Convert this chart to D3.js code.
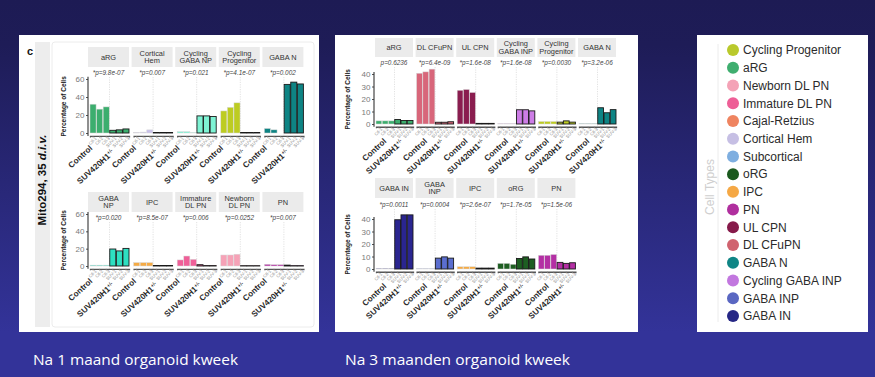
<!DOCTYPE html>
<html><head><meta charset="utf-8">
<script src="https://cdn.jsdelivr.net/npm/d3@7"></script>
<style>body{margin:0;background:#1e1c56}svg{display:block}</style>
</head><body><svg id="c" width="875" height="377"></svg>
<script>
// ---------------- data ----------------
const sampleLabels = ["Ctl-1","Ctl-2","Ctl-3","SUV-1","SUV-2","SUV-3"];
const groupLabels = ["Control","SUV420H1"];
const groupSup = "+/-";

// 1 month (Mito294, 35 d.i.v.)
const m1TopCats = ["aRG","Cortical Hem","Cycling GABA NP","Cycling Progenitor","GABA N"];
const m1TopStrips = [["aRG"],["Cortical","Hem"],["Cycling","GABA NP"],["Cycling","Progenitor"],["GABA N"]];
const m1TopControl = [[32,26.5,29],[0.8,1,3.5],[1.5,1.5,0.6],[24.5,28.5,33.5],[5,3.5,0]];
const m1TopSUV = [[3,3.5,4.5],[0.6,0.6,0.6],[19,19,18.3],[0.6,0.6,0.6],[54,56.5,54.5]];
const m1TopP = ["*p=9.8e-07","*p=0.007","*p=0.021","*p=4.1e-07","*p=0.002"];

const m1BotCats = ["GABA NP","IPC","Immature DL PN","Newborn DL PN","PN"];
const m1BotStrips = [["GABA","NP"],["IPC"],["Immature","DL PN"],["Newborn","DL PN"],["PN"]];
const m1BotControl = [[1,1,1],[3.9,3.9,3.9],[7,11.5,7.7],[12.7,12.7,13.6],[2,1.5,1.5]];
const m1BotSUV = [[19.6,17.4,20.3],[0.6,0.6,0.6],[1.5,0.5,0.5],[0.4,0.4,0.4],[1,0.4,0.4]];
const m1BotP = ["*p=0.020","*p=8.5e-07","*p=0.006","*p=0.0252","*p=0.007"];
const m1Ticks = [0,20,40,60];

// 3 months
const m3TopCats = ["aRG","DL CFuPN","UL CPN","Cycling GABA INP","Cycling Progenitor","GABA N"];
const m3TopStrips = [["aRG"],["DL CFuPN"],["UL CPN"],["Cycling","GABA INP"],["Cycling","Progenitor"],["GABA N"]];
const m3TopControl = [[2.5,2.5,2.5],[40.6,41.7,43.9],[27,27.6,25.2],[0.3,0.3,0.3],[2,2,2],[0.3,0.3,0.3]];
const m3TopSUV = [[3.6,2.8,2.8],[1.4,1.4,1.8],[0.5,0.5,0.5],[11.4,11.4,10.5],[1.5,2.5,1.5],[13,9,11.5]];
const m3TopP = ["p=0.6236","*p=6.4e-09","*p=1.6e-08","*p=1.6e-08","*p=0.0030","*p=3.2e-06"];

const m3BotCats = ["GABA IN","GABA INP","IPC","oRG","PN"];
const m3BotStrips = [["GABA IN"],["GABA","INP"],["IPC"],["oRG"],["PN"]];
const m3BotControl = [[0.5,0.5,0.5],[0.3,0.3,0.3],[1.8,1.8,1.8],[4.5,4.5,3.8],[11,11,11.6]];
const m3BotSUV = [[39.4,43.3,43.3],[8.7,9.7,8.7],[0.7,0.7,0.7],[8.4,9.7,8],[5.3,4.5,5]];
const m3BotP = ["*p=0.0011","*p=0.0004","*p=2.6e-07","*p=1.7e-05","*p=1.5e-06"];
const m3Ticks = [0,10,20,30,40];

const barColors = {
  "aRG":"#3cae6e","Cortical Hem":"#c9c1e9","Cycling GABA NP":"#7ef3d4","Cycling Progenitor":"#bdcc22",
  "GABA N":"#0e8484","GABA NP":"#2edfc1","IPC":"#f5ab45","Immature DL PN":"#ef5f98","Newborn DL PN":"#f6a2b7",
  "PN":"#b42fa4","DL CFuPN":"#d8667a","UL CPN":"#8a1d4f","Cycling GABA INP":"#cd7de6","GABA IN":"#2a2590",
  "GABA INP":"#5b6ecf","oRG":"#1e5e22"
};

const cellTypes = ["Cycling Progenitor","aRG","Newborn DL PN","Immature DL PN","Cajal-Retzius","Cortical Hem",
  "Subcortical","oRG","IPC","PN","UL CPN","DL CFuPN","GABA N","Cycling GABA INP","GABA INP","GABA IN"];
const cellColors = ["#b9c92c","#3fae6f","#f4a2b6","#ee5f97","#ef8460","#c6bfe4","#7eaee0","#1b5a1e",
  "#f5a845","#b02f9e","#861a4a","#d0636f","#0f8585","#c277df","#5a67c2","#262785"];

const captions = ["Na 1 maand organoid kweek","Na 3 maanden organoid kweek"];

// ---------------- drawing ----------------
const svg = d3.select("#c");
const FONT = "'Liberation Sans', Arial, sans-serif";
const defs = svg.append("defs");
const grad = defs.append("linearGradient").attr("id","bg").attr("x1",0).attr("y1",0).attr("x2",0).attr("y2",1);
grad.append("stop").attr("offset","0").attr("stop-color","#1d1b54");
grad.append("stop").attr("offset","0.12").attr("stop-color","#1e1c57");
grad.append("stop").attr("offset","0.88").attr("stop-color","#333399");
grad.append("stop").attr("offset","1").attr("stop-color","#333399");
svg.append("rect").attr("width",875).attr("height",377).attr("fill","url(#bg)");

// white panels
const panelBoxes = [[19,35,300,297],[335,35,303,297],[697,35,171,297]];
svg.selectAll("rect.panel").data(panelBoxes).join("rect").attr("class","panel")
  .attr("x",d=>d[0]).attr("y",d=>d[1]).attr("width",d=>d[2]).attr("height",d=>d[3]).attr("fill","#fff");

// left panel decorations
svg.append("rect").attr("x",52).attr("y",42).attr("width",262).attr("height",285).attr("rx",3)
  .attr("fill","none").attr("stroke","#ececec").attr("stroke-width",1);
svg.append("rect").attr("x",35).attr("y",42).attr("width",15).attr("height",285).attr("fill","#ededed");
svg.append("text").attr("x",27).attr("y",55).attr("font-family",FONT).attr("font-weight","bold")
  .attr("font-size",11).attr("fill","#111").text("c");
const mito = svg.append("text").attr("transform","translate(46,180) rotate(-90)").attr("text-anchor","middle")
  .attr("font-family",FONT).attr("font-weight","bold").attr("font-size",11.5).attr("fill","#111");
mito.append("tspan").text("Mito294, 35 ");
mito.append("tspan").attr("font-style","italic").text("d.i.v.");

function drawRow(o) {
  const g = svg.append("g");
  const y = d3.scaleLinear().domain([0, o.ymax]).range([o.zeroY, o.topY]);
  const yLo = y(-o.ymax*0.055), yHi = y(o.ymax*1.04);
  // y axis
  const ya = g.append("g").attr("transform",`translate(${o.axisX},0)`)
    .call(d3.axisLeft(y).tickValues(o.ticks).tickSize(2).tickPadding(1.5));
  ya.select(".domain").remove();
  ya.selectAll("text").attr("font-family",FONT).attr("font-size",8).attr("fill","#7a7a7a");
  ya.selectAll("line").attr("stroke","#555");
  g.append("line").attr("x1",o.axisX).attr("x2",o.axisX).attr("y1",yLo).attr("y2",yHi)
    .attr("stroke","#333").attr("stroke-width",1.1);
  g.append("text").attr("transform",`translate(${o.titleX},${(yLo+yHi)/2}) rotate(-90)`)
    .attr("text-anchor","middle").attr("font-family",FONT).attr("font-weight","bold")
    .attr("font-size",6.5).attr("fill","#222").text("Percentage of Cells");

  o.cats.forEach((cat,i)=>{
    const fx = o.x0 + i*o.pitch;
    const fg = g.append("g");
    // strip
    fg.append("rect").attr("x",fx).attr("y",o.stripY).attr("width",o.fw).attr("height",o.stripH).attr("fill","#ebebeb");
    const lines = o.strips[i];
    const st = fg.append("text").attr("text-anchor","middle").attr("font-family",FONT)
      .attr("font-size",7.4).attr("fill","#333");
    lines.forEach((l,k)=>{
      const yy = o.stripY + o.stripH/2 + (k-(lines.length-1)/2)*7.8 + 2.5;
      st.append("tspan").attr("x",fx+o.fw/2).attr("y",yy).text(l);
    });
    // p value
    fg.append("text").attr("x",fx+o.fw/2).attr("y",o.pY).attr("text-anchor","middle")
      .attr("font-family",FONT).attr("font-style","italic").attr("font-size",6.4).attr("fill","#444").text(o.pvals[i]);
    // dotted divider
    fg.append("line").attr("x1",fx+o.fw/2+o.barOff/2).attr("x2",fx+o.fw/2+o.barOff/2)
      .attr("y1",o.pY+2).attr("y2",yLo).attr("stroke","#cfcfcf").attr("stroke-width",0.6).attr("stroke-dasharray","1.2,1.2");
    // bars
    const xb = d3.scaleBand().domain(sampleLabels).range([fx+o.barOff, fx+o.fw]).paddingInner(0.08);
    const vals = o.ctrl[i].concat(o.suv[i]);
    fg.selectAll("rect.bar").data(vals).join("rect").attr("class","bar")
      .attr("x",(d,j)=>xb(sampleLabels[j])).attr("width",xb.bandwidth())
      .attr("y",d=>y(d)).attr("height",d=>y(0)-y(d))
      .attr("fill",barColors[cat])
      .attr("stroke",(d,j)=>j<3?"#d8d8d8":"#1a1a1a").attr("stroke-width",(d,j)=>j<3?0.5:0.9);
    // x axis
    const xa = fg.append("g").attr("transform",`translate(0,${yLo})`)
      .call(d3.axisBottom(xb).tickSize(1.5).tickPadding(1));
    xa.select(".domain").attr("stroke","#555").attr("stroke-width",1.3);
    xa.selectAll("line").attr("stroke","#777");
    xa.selectAll("text").attr("font-family",FONT).attr("font-size",4.4).attr("fill","#8a8a8a")
      .attr("text-anchor","end").attr("dx","0.2em").attr("dy","0.5em").attr("transform","rotate(-45)");
    // group labels
    fg.append("text").attr("transform",`translate(${fx+o.cLab[0]},${o.zeroY+o.cLab[1]}) rotate(-42)`)
      .attr("text-anchor","end").attr("font-family",FONT).attr("font-weight","bold").attr("font-size",8.2)
      .attr("fill","#2a2a2a").text(groupLabels[0]);
    const sl = fg.append("text").attr("transform",`translate(${fx+o.sLab[0]},${o.zeroY+o.sLab[1]}) rotate(-42)`)
      .attr("text-anchor","end").attr("font-family",FONT).attr("font-weight","bold").attr("font-size",8.2)
      .attr("fill","#2a2a2a");
    sl.append("tspan").text(groupLabels[1]);
    sl.append("tspan").attr("font-size",5).attr("dy",-3).text(groupSup);
  });
}

drawRow({cats:m1TopCats,strips:m1TopStrips,ctrl:m1TopControl,suv:m1TopSUV,pvals:m1TopP,ticks:m1Ticks,
  ymax:60,zeroY:133,topY:79,x0:88,pitch:43.6,fw:41,barOff:2,stripY:47,stripH:20,pY:75,axisX:88,titleX:66,
  cLab:[5,16],sLab:[27,20]});
drawRow({cats:m1BotCats,strips:m1BotStrips,ctrl:m1BotControl,suv:m1BotSUV,pvals:m1BotP,ticks:m1Ticks,
  ymax:60,zeroY:266,topY:214,x0:88,pitch:43.6,fw:41,barOff:2,stripY:192,stripH:20,pY:220,axisX:88,titleX:66,
  cLab:[5,16],sLab:[27,20]});
drawRow({cats:m3TopCats,strips:m3TopStrips,ctrl:m3TopControl,suv:m3TopSUV,pvals:m3TopP,ticks:m3Ticks,
  ymax:40,zeroY:124,topY:74,x0:375,pitch:40.6,fw:38,barOff:1,stripY:38,stripH:19,pY:65,axisX:374,titleX:350,
  cLab:[12,18],sLab:[29,19]});
drawRow({cats:m3BotCats,strips:m3BotStrips,ctrl:m3BotControl,suv:m3BotSUV,pvals:m3BotP,ticks:m3Ticks,
  ymax:40,zeroY:269,topY:219,x0:375,pitch:40.6,fw:38,barOff:1,stripY:178,stripH:20,pY:207,axisX:374,titleX:350,
  cLab:[12,18],sLab:[29,19]});

// legend
const lg = svg.append("g");
lg.append("line").attr("x1",718).attr("x2",718).attr("y1",44).attr("y2",322).attr("stroke","#ececec");
lg.append("text").attr("transform","translate(714,187) rotate(-90)").attr("text-anchor","middle")
  .attr("font-family",FONT).attr("font-size",12).attr("fill","#cfcfcf").text("Cell Types");
const ly = d3.scalePoint().domain(cellTypes).range([50,316]);
const items = lg.selectAll("g.item").data(cellTypes).join("g").attr("class","item")
  .attr("transform",d=>`translate(733,${ly(d)})`);
items.append("circle").attr("r",6).attr("fill",(d,i)=>cellColors[i]);
items.append("text").attr("x",10).attr("dy","0.36em").attr("font-family",FONT).attr("font-size",12)
  .attr("fill","#2b2b2b").text(d=>d);

// captions
const capX = [33,345], capW = [205,225];
svg.selectAll("text.cap").data(captions).join("text").attr("class","cap")
  .attr("x",(d,i)=>capX[i]).attr("y",365).attr("font-family","'Open Sans', Lato, sans-serif").attr("font-size",15)
  .attr("fill","#fff").attr("textLength",(d,i)=>capW[i]).attr("lengthAdjust","spacingAndGlyphs").text(d=>d);
</script></body></html>
